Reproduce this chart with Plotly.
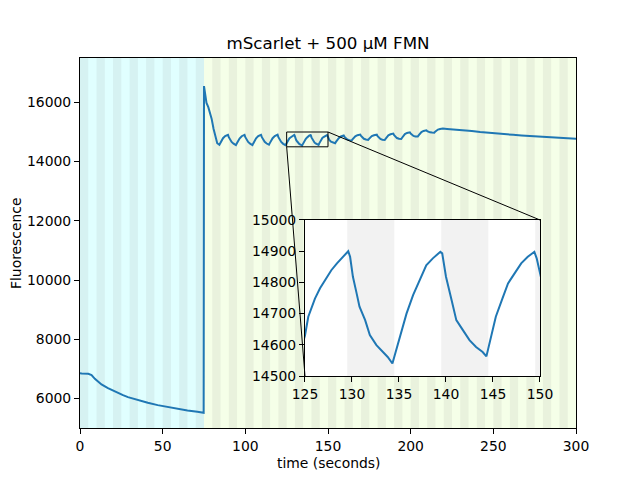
import plotly.graph_objects as go

# ---------------- data ----------------
# dark phase (before light switch)
t_dark = [0, 1, 5, 7, 9, 10.9, 13, 16.9, 20, 23, 26, 29, 35, 41, 47, 53, 59, 65, 71, 74.8]
f_dark = [6850, 6840, 6830, 6790, 6660, 6553, 6470, 6350, 6260, 6180, 6110, 6044, 5942, 5854, 5773, 5705, 5651, 5593, 5549, 5515]

# jump at 75 s and decay
t_spike = [75.0, 75.6, 76.5, 77.6, 78.6, 79.6, 80.8, 82.0, 83.0, 84.3]
f_spike = [16550, 16250, 15980, 15840, 15650, 15450, 15100, 14780, 14620, 14570]

# oscillations 84-125 s
t_osc = [84.8, 85.5, 86.5, 87.8, 89.5, 90.0, 90.7, 91.7, 92.9, 94.3,
         94.8, 95.5, 96.5, 97.8, 99.5, 100.0, 100.7, 101.7, 102.9, 104.3,
         104.8, 105.5, 106.5, 107.8, 109.5, 110.0, 110.7, 111.7, 112.9, 114.3,
         114.8, 115.5, 116.5, 117.8, 119.5, 120.0, 120.7, 121.7, 122.9, 124.3,
         124.7]
f_osc = [14625, 14705, 14790, 14862, 14905, 14825, 14735, 14665, 14605, 14555,
         14610, 14690, 14780, 14858, 14905, 14825, 14735, 14665, 14605, 14560,
         14615, 14695, 14785, 14860, 14905, 14825, 14740, 14670, 14610, 14570,
         14625, 14705, 14790, 14862, 14908, 14825, 14735, 14665, 14600, 14555,
         14595]

# zoomed window 125-150 s
t_zoom = [125.0, 125.35, 125.7, 126.06, 126.6, 127.1, 127.8, 128.4, 128.9, 129.4, 129.6,
          129.8, 130.1, 130.5, 130.8, 131.4, 131.9, 132.6, 133.3, 133.8, 134.3,
          134.7, 135.25, 135.8, 136.5, 137.2, 137.9, 138.6, 139.4, 139.6,
          140.0, 140.6, 141.1, 141.8, 142.5, 143.2, 143.9, 144.3,
          144.8, 145.3, 146.0, 146.6, 147.3, 148.0, 148.7, 149.4, 149.65, 149.9]
f_zoom = [14630, 14690, 14716, 14748, 14781, 14807, 14839, 14861, 14877, 14895, 14900,
          14882, 14818, 14764, 14722, 14679, 14631, 14599, 14577, 14561, 14540,
          14582, 14647, 14700, 14759, 14807, 14855, 14877, 14898, 14893,
          14818, 14743, 14679, 14647, 14615, 14593, 14577, 14563,
          14625, 14690, 14748, 14797, 14829, 14861, 14882, 14898, 14877, 14839]

# damped oscillations 150-220 s
t_damp = [150.3, 150.8, 151.8, 153.0, 154.3,
          154.8, 155.5, 156.5, 157.8, 159.5, 160.0, 160.7, 161.7, 162.9, 164.3,
          164.8, 165.5, 166.5, 167.8, 169.5, 170.0, 170.7, 171.7, 172.9, 174.3,
          174.8, 175.5, 176.5, 177.8, 179.5, 180.0, 180.7, 181.7, 182.9, 184.3,
          184.8, 185.5, 186.5, 187.8, 189.5, 190.0, 190.7, 191.7, 192.9, 194.3,
          194.8, 195.5, 196.5, 197.8, 199.5, 200.0, 200.7, 201.7, 202.9, 204.3,
          204.8, 205.5, 206.5, 207.8, 209.5, 210.0, 210.7, 211.7, 212.9, 214.3,
          214.8, 215.5, 216.5, 217.8, 219.5]
f_damp = [14790, 14735, 14675, 14640, 14620,
          14665, 14725, 14790, 14850, 14882, 14835, 14790, 14750, 14725, 14712,
          14750, 14805, 14855, 14893, 14915, 14865, 14810, 14770, 14748, 14735,
          14770, 14820, 14862, 14892, 14910, 14862, 14805, 14765, 14740, 14730,
          14770, 14830, 14885, 14922, 14945, 14895, 14835, 14795, 14772, 14762,
          14805, 14870, 14930, 14968, 14990, 14948, 14900, 14868, 14850, 14845,
          14885, 14950, 15000, 15035, 15058, 15032, 15005, 14988, 14980, 14978,
          15010, 15050, 15082, 15102, 15115]

# slow tail 220-300 s
t_tail = [222, 226, 232, 237, 242, 247, 252, 257, 262, 267, 272, 277, 282, 288, 294, 300]
f_tail = [15105, 15090, 15070, 15035, 14998, 14970, 14945, 14925, 14905, 14885, 14865, 14845, 14828, 14808, 14792, 14775]

time_s = t_dark + t_spike + t_osc + t_zoom + t_damp + t_tail
fluor = f_dark + f_spike + f_osc + f_zoom + f_damp + f_tail

x_ticks = [0, 50, 100, 150, 200, 250, 300]
y_ticks = [6000, 8000, 10000, 12000, 14000, 16000]
inset_x_ticks = [125, 130, 135, 140, 145, 150]
inset_y_ticks = [14500, 14600, 14700, 14800, 14900, 15000]

switch_time = 75          # illumination change
pulse_period = 10
pulse_width = 5
inset_pulse_offset = -0.5

# ---------------- styling ----------------
X_RANGE = [0, 300]
Y_RANGE = [5000, 17500]
INSET_X = [125, 150]
INSET_Y = [14500, 15000]
INSET_DOM_X = [0.4536, 0.9274]
INSET_DOM_Y = [0.1405, 0.5622]

# page offset of the browser (body margin 8 px) compensated here
W, H = 632, 472
ML, MR, MT, MB = 72, 64, 50, 52

LINE_COLOR = "#1f77b4"
CYAN = "rgb(224,255,255)"
CYAN_DARK = "rgb(214,242,242)"
GREEN = "rgb(245,255,232)"
GREEN_DARK = "rgb(233,242,221)"
GRAY = "rgb(242,242,242)"
FONT = "DejaVu Sans"
FS = 13.9

fig = go.Figure()
fig.add_trace(go.Scatter(x=time_s, y=fluor, mode="lines",
                         line=dict(color=LINE_COLOR, width=2), showlegend=False,
                         xaxis="x", yaxis="y"))
fig.add_trace(go.Scatter(x=time_s, y=fluor, mode="lines",
                         line=dict(color=LINE_COLOR, width=2), showlegend=False,
                         xaxis="x2", yaxis="y2"))

shapes = []
# background regions
shapes.append(dict(type="rect", xref="x", yref="paper", x0=X_RANGE[0], x1=switch_time,
                   y0=0, y1=1, fillcolor=CYAN, line=dict(width=0), layer="below"))
shapes.append(dict(type="rect", xref="x", yref="paper", x0=switch_time, x1=X_RANGE[1],
                   y0=0, y1=1, fillcolor=GREEN, line=dict(width=0), layer="below"))
# pulse stripes main
k = 0
while k * pulse_period < X_RANGE[1]:
    x0 = k * pulse_period
    x1 = min(x0 + pulse_width, X_RANGE[1])
    col = CYAN_DARK if x1 <= switch_time else GREEN_DARK
    shapes.append(dict(type="rect", xref="x", yref="paper", x0=x0, x1=x1, y0=0, y1=1,
                       fillcolor=col, line=dict(width=0), layer="below"))
    k += 1

# inset background + stripes
shapes.append(dict(type="rect", xref="x2", yref="y2", x0=INSET_X[0], x1=INSET_X[1],
                   y0=INSET_Y[0], y1=INSET_Y[1], fillcolor="white", line=dict(width=0),
                   layer="below"))
k = 0
while k * pulse_period + inset_pulse_offset < INSET_X[1]:
    x0 = k * pulse_period + inset_pulse_offset
    x1 = x0 + pulse_width
    if x1 > INSET_X[0]:
        shapes.append(dict(type="rect", xref="x2", yref="y2",
                           x0=max(x0, INSET_X[0]), x1=min(x1, INSET_X[1]),
                           y0=INSET_Y[0], y1=INSET_Y[1], fillcolor=GRAY,
                           line=dict(width=0), layer="below"))
    k += 1

# zoom rectangle
shapes.append(dict(type="rect", xref="x", yref="y", x0=INSET_X[0], x1=INSET_X[1],
                   y0=INSET_Y[0], y1=INSET_Y[1], line=dict(color="black", width=1),
                   fillcolor="rgba(0,0,0,0)", layer="above"))

def to_paper_x(v):
    return (v - X_RANGE[0]) / (X_RANGE[1] - X_RANGE[0])

def to_paper_y(v):
    return (v - Y_RANGE[0]) / (Y_RANGE[1] - Y_RANGE[0])

# connectors
shapes.append(dict(type="line", xref="paper", yref="paper",
                   x0=to_paper_x(INSET_X[0]), y0=to_paper_y(INSET_Y[0]),
                   x1=INSET_DOM_X[0], y1=INSET_DOM_Y[0],
                   line=dict(color="black", width=1), layer="above"))
shapes.append(dict(type="line", xref="paper", yref="paper",
                   x0=to_paper_x(INSET_X[1]), y0=to_paper_y(INSET_Y[1]),
                   x1=INSET_DOM_X[1], y1=INSET_DOM_Y[1],
                   line=dict(color="black", width=1), layer="above"))

axis_common = dict(showgrid=False, zeroline=False, showline=True, mirror=True,
                   linecolor="black", linewidth=1, ticks="outside", ticklen=5,
                   tickwidth=1, tickcolor="black",
                   tickfont=dict(family=FONT, size=FS, color="black"),
                   tickformat="d", fixedrange=True)

fig.update_layout(
    width=W, height=H, autosize=False,
    margin=dict(l=ML, r=MR, t=MT, b=MB),
    paper_bgcolor="white", plot_bgcolor="white",
    font=dict(family=FONT, size=FS, color="black"),
    title=dict(text="mScarlet + 500 μM FMN", x=0.5, xref="paper", xanchor="center",
               y=1 - 35 / H, yref="container", yanchor="middle",
               font=dict(family=FONT, size=16.7, color="black")),
    xaxis=dict(range=X_RANGE, domain=[0, 1], tickmode="array", tickvals=x_ticks,
               anchor="y", **axis_common),
    yaxis=dict(range=Y_RANGE, domain=[0, 1], tickmode="array", tickvals=y_ticks,
               anchor="x", **axis_common),
    xaxis2=dict(range=INSET_X, domain=INSET_DOM_X, tickmode="array",
                tickvals=inset_x_ticks, anchor="y2", **axis_common),
    yaxis2=dict(range=INSET_Y, domain=INSET_DOM_Y, tickmode="array",
                tickvals=inset_y_ticks, anchor="x2", **axis_common),
    shapes=shapes,
    annotations=[
        dict(text="time (seconds)", xref="paper", yref="paper", x=0.5, y=(428 - 463) / 370,
             xanchor="center", yanchor="middle", showarrow=False,
             font=dict(family=FONT, size=FS, color="black")),
        dict(text="Fluorescence", xref="paper", yref="paper", x=(16 - 80) / 496, y=0.5,
             xanchor="center", yanchor="middle", showarrow=False, textangle=-90,
             font=dict(family=FONT, size=FS, color="black")),
    ],
)

fig.write_html("out.html")
